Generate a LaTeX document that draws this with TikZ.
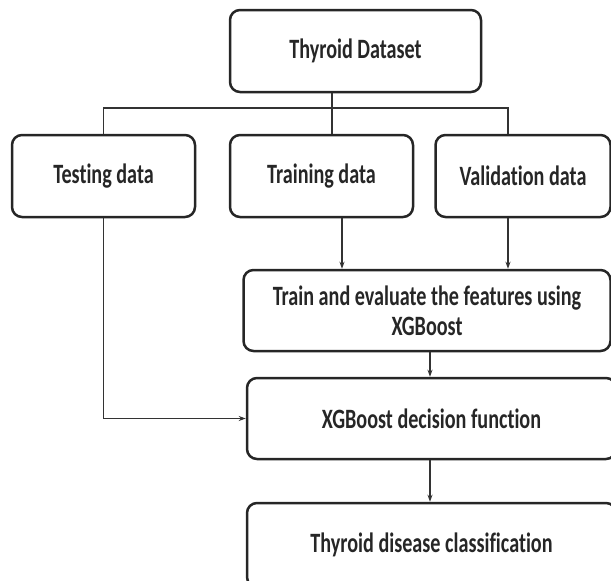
\documentclass[tikz,border=0pt]{standalone}
\usepackage{fontspec}
\setmainfont{Carlito}[FakeStretch=0.72,Ligatures=NoCommon]
\usetikzlibrary{arrows.meta}
\begin{document}
\begin{tikzpicture}[x=1pt,y=-1pt,
  box/.style={draw=black!85, line width=2.5pt, rounded corners=10pt, align=center,
    font=\fontsize{28}{30}\selectfont\bfseries, text=black!85, inner sep=0pt},
  conn/.style={line width=1.1pt, draw=black!80},
  arr/.style={conn, -{Stealth[length=7pt,width=5pt]}}]
\useasboundingbox (0,0) rectangle (611,581);
\node[box, minimum width=251pt, minimum height=82pt] (dataset) at (355.5,51) {Thyroid Dataset};
\node[box, minimum width=183pt, minimum height=82pt] (testing) at (103.5,176) {Testing data};
\node[box, minimum width=183pt, minimum height=82pt] (training) at (321.5,176) {Training data};
\node[box, minimum width=175pt, minimum height=82pt] (validation) at (523,176) {Validation data};
\node[box, minimum width=367pt, minimum height=81pt] (trainbox) at (427,310.5) {Train and evaluate the features using\\XGBoost};
\node[box, minimum width=369pt, minimum height=81pt] (decision) at (431.5,418.5) {XGBoost decision function};
\node[box, minimum width=369pt, minimum height=84pt] (final) at (431.5,545) {Thyroid disease classification};
\coordinate (bm) at (332,108);
\coordinate (br) at (508,108);
\coordinate (a1) at (342,0);
\coordinate (a2) at (430,0);
\draw[conn] (testing.north) |- (br) -- (br |- validation.north);
\draw[conn] (dataset.south -| bm) -- (bm |- training.north);
\draw[arr] (training.south -| a1) -- (trainbox.north -| a1);
\draw[arr] (validation.south -| br) -- (trainbox.north -| br);
\draw[arr] (trainbox.south -| a2) -- (decision.north -| a2);
\draw[arr] (decision.south -| a2) -- (final.north -| a2);
\draw[arr] (testing.south) |- (decision.west);
\end{tikzpicture}
\end{document}
